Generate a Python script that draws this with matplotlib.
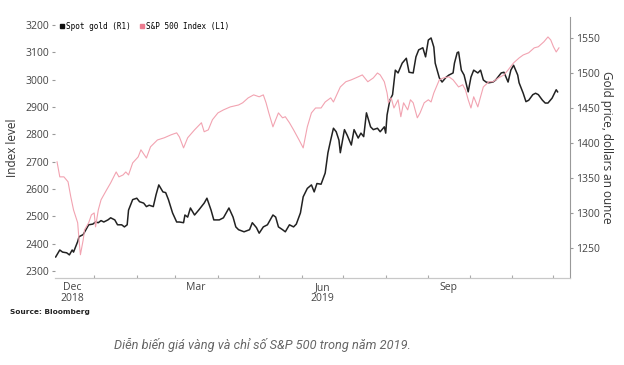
import matplotlib
matplotlib.use("Agg")
import matplotlib.pyplot as plt
import matplotlib.dates as mdates
from matplotlib.lines import Line2D
import pandas as pd

# S&P 500 (left axis)
spx_dates = ["2018-12-05", "2018-12-07", "2018-12-10", "2018-12-13", "2018-12-15", "2018-12-17",
             "2018-12-20", "2018-12-21", "2018-12-22", "2018-12-24", "2018-12-25", "2018-12-28",
             "2018-12-30", "2019-01-01", "2019-01-02", "2019-01-04", "2019-01-06", "2019-01-10",
             "2019-01-13", "2019-01-17", "2019-01-19", "2019-01-22", "2019-01-24", "2019-01-26",
             "2019-01-29", "2019-02-02", "2019-02-04", "2019-02-08", "2019-02-11", "2019-02-16",
             "2019-02-21", "2019-02-26", "2019-03-02", "2019-03-04", "2019-03-07", "2019-03-10",
             "2019-03-15", "2019-03-20", "2019-03-22", "2019-03-25", "2019-03-28", "2019-04-01",
             "2019-04-05", "2019-04-10", "2019-04-16", "2019-04-19", "2019-04-23", "2019-04-27",
             "2019-05-01", "2019-05-04", "2019-05-06", "2019-05-08", "2019-05-11", "2019-05-13",
             "2019-05-15", "2019-05-18", "2019-05-20", "2019-05-23", "2019-05-26", "2019-05-30",
             "2019-06-02", "2019-06-05", "2019-06-08", "2019-06-11", "2019-06-15", "2019-06-18",
             "2019-06-22", "2019-06-24", "2019-06-29", "2019-07-03", "2019-07-07", "2019-07-12",
             "2019-07-15", "2019-07-19", "2019-07-23", "2019-07-26", "2019-07-28", "2019-07-31",
             "2019-08-02", "2019-08-03", "2019-08-05", "2019-08-07", "2019-08-10", "2019-08-12",
             "2019-08-14", "2019-08-17", "2019-08-19", "2019-08-21", "2019-08-24", "2019-08-26",
             "2019-08-29", "2019-09-01", "2019-09-03", "2019-09-05", "2019-09-09", "2019-09-12",
             "2019-09-16", "2019-09-19", "2019-09-23", "2019-09-26", "2019-09-28", "2019-09-30",
             "2019-10-02", "2019-10-04", "2019-10-07", "2019-10-09", "2019-10-11", "2019-10-15",
             "2019-10-18", "2019-10-22", "2019-10-26", "2019-10-29", "2019-11-02", "2019-11-06",
             "2019-11-09", "2019-11-13", "2019-11-17", "2019-11-20", "2019-11-24", "2019-11-27",
             "2019-11-29", "2019-12-01", "2019-12-03", "2019-12-05"]
spx_values = [2699, 2644, 2644, 2626, 2571, 2523,
              2476, 2413, 2359, 2413, 2450, 2476,
              2505, 2512, 2461, 2523, 2560, 2596,
              2622, 2662, 2644, 2651, 2662, 2651,
              2695, 2717, 2743, 2713, 2754, 2779,
              2787, 2798, 2805, 2790, 2750, 2787,
              2816, 2842, 2809, 2816, 2853, 2878,
              2889, 2900, 2907, 2915, 2933, 2944,
              2937, 2944, 2915, 2878, 2827, 2853,
              2878, 2860, 2864, 2842, 2816, 2779,
              2750, 2827, 2878, 2896, 2896, 2918,
              2933, 2918, 2973, 2992, 2999, 3010,
              3017, 2992, 3006, 3024, 3017, 2992,
              2951, 2915, 2933, 2896, 2926, 2864,
              2915, 2889, 2926, 2915, 2860, 2878,
              2915, 2926, 2918, 2951, 2999, 3006,
              3010, 2999, 2973, 2981, 2962, 2926,
              2896, 2937, 2900, 2937, 2973, 2992,
              2992, 3006, 3017, 3035, 3061, 3079,
              3090, 3098, 3116, 3120, 3138, 3156,
              3145, 3120, 3101, 3116]

# Spot gold (right axis)
gold_dates = ["2018-12-04", "2018-12-07", "2018-12-09", "2018-12-12", "2018-12-14", "2018-12-16",
              "2018-12-17", "2018-12-20", "2018-12-21", "2018-12-24", "2018-12-26", "2018-12-28",
              "2018-12-31", "2019-01-02", "2019-01-04", "2019-01-06", "2019-01-08", "2019-01-11",
              "2019-01-13", "2019-01-16", "2019-01-18", "2019-01-21", "2019-01-23", "2019-01-25",
              "2019-01-26", "2019-01-29", "2019-02-01", "2019-02-03", "2019-02-06", "2019-02-08",
              "2019-02-10", "2019-02-13", "2019-02-15", "2019-02-17", "2019-02-20", "2019-02-22",
              "2019-02-24", "2019-02-27", "2019-03-02", "2019-03-04", "2019-03-07", "2019-03-08",
              "2019-03-10", "2019-03-12", "2019-03-15", "2019-03-18", "2019-03-20", "2019-03-22",
              "2019-03-24", "2019-03-27", "2019-03-29", "2019-04-02", "2019-04-05", "2019-04-09",
              "2019-04-12", "2019-04-14", "2019-04-16", "2019-04-20", "2019-04-24", "2019-04-26",
              "2019-04-29", "2019-05-01", "2019-05-04", "2019-05-07", "2019-05-11", "2019-05-13",
              "2019-05-15", "2019-05-18", "2019-05-20", "2019-05-23", "2019-05-26", "2019-05-28",
              "2019-05-31", "2019-06-02", "2019-06-05", "2019-06-08", "2019-06-10", "2019-06-12",
              "2019-06-15", "2019-06-18", "2019-06-20", "2019-06-22", "2019-06-24", "2019-06-26",
              "2019-06-28", "2019-06-29", "2019-07-02", "2019-07-04", "2019-07-07", "2019-07-09",
              "2019-07-12", "2019-07-14", "2019-07-16", "2019-07-18", "2019-07-21", "2019-07-23",
              "2019-07-26", "2019-07-28", "2019-07-31", "2019-08-01", "2019-08-02", "2019-08-04",
              "2019-08-06", "2019-08-08", "2019-08-10", "2019-08-13", "2019-08-16", "2019-08-18",
              "2019-08-21", "2019-08-23", "2019-08-25", "2019-08-28", "2019-08-30", "2019-09-01",
              "2019-09-03", "2019-09-05", "2019-09-06", "2019-09-09", "2019-09-11", "2019-09-14",
              "2019-09-16", "2019-09-19", "2019-09-20", "2019-09-22", "2019-09-23", "2019-09-25",
              "2019-09-27", "2019-09-30", "2019-10-02", "2019-10-04", "2019-10-07", "2019-10-09",
              "2019-10-11", "2019-10-13", "2019-10-15", "2019-10-18", "2019-10-20", "2019-10-24",
              "2019-10-26", "2019-10-29", "2019-10-31", "2019-11-02", "2019-11-05", "2019-11-06",
              "2019-11-09", "2019-11-11", "2019-11-13", "2019-11-16", "2019-11-18", "2019-11-20",
              "2019-11-23", "2019-11-25", "2019-11-27", "2019-11-30", "2019-12-03", "2019-12-04"]
gold_values = [1237, 1247, 1244, 1243, 1240, 1247,
               1244, 1259, 1266, 1269, 1276, 1283,
               1284, 1287, 1286, 1289, 1287, 1290,
               1293, 1290, 1283, 1283, 1280, 1283,
               1304, 1319, 1321, 1316, 1314, 1309,
               1311, 1309, 1326, 1340, 1330, 1329,
               1319, 1300, 1287, 1287, 1286, 1297,
               1294, 1307, 1297, 1304, 1309, 1314,
               1321, 1304, 1290, 1290, 1293, 1307,
               1294, 1280, 1276, 1273, 1276, 1286,
               1279, 1271, 1280, 1283, 1297, 1294,
               1280, 1276, 1273, 1283, 1280, 1284,
               1300, 1323, 1335, 1340, 1330, 1342,
               1341, 1357, 1386, 1404, 1421, 1416,
               1404, 1386, 1419, 1411, 1397, 1419,
               1407, 1414, 1409, 1443, 1423, 1419,
               1421, 1416, 1423, 1414, 1440, 1461,
               1469, 1504, 1500, 1514, 1521, 1501,
               1500, 1523, 1533, 1536, 1523, 1547,
               1550, 1537, 1514, 1493, 1487, 1494,
               1497, 1500, 1514, 1529, 1530, 1504,
               1497, 1473, 1494, 1504, 1500, 1504,
               1490, 1487, 1486, 1487, 1490, 1500,
               1501, 1487, 1504, 1511, 1497, 1486,
               1471, 1459, 1461, 1469, 1471, 1469,
               1461, 1457, 1457, 1464, 1476, 1473]

left_ticks = [2300, 2400, 2500, 2600, 2700, 2800, 2900, 3000, 3100, 3200]
right_ticks = [1250, 1300, 1350, 1400, 1450, 1500, 1550]
x_labels = ["Dec\n2018", "Mar", "Jun\n2019", "Sep"]
x_label_dates = ["2018-12-16", "2019-03-16", "2019-06-16", "2019-09-16"]

spx_x = pd.to_datetime(spx_dates)
gold_x = pd.to_datetime(gold_dates)

fig = plt.figure(figsize=(6.24, 3.65), dpi=100)
ax = fig.add_axes([0.0881, 0.2384, 0.8253, 0.7151])
ax2 = ax.twinx()

# S&P drawn over gold
ax.set_zorder(2)
ax.patch.set_visible(False)
ax2.set_zorder(1)

ax2.plot(gold_x, gold_values, color="#222222", lw=1.1)
ax.plot(spx_x, spx_values, color="#f2a3b1", lw=0.8)

ax.set_xlim(pd.Timestamp("2018-12-03 12:00"), pd.Timestamp("2019-12-13"))
ax.set_ylim(2274, 3229)
ax2.set_ylim(1207, 1580)

tick_font = dict(family="Open Sans", size=7.5)
ax.set_yticks(left_ticks)
ax.set_yticklabels([str(v) for v in left_ticks], fontdict=tick_font, color="#444444")
ax2.set_yticks(right_ticks)
ax2.set_yticklabels([str(v) for v in right_ticks], fontdict=tick_font, color="#444444")

# monthly ticks, quarter labels in mid-month
ax.xaxis.set_major_locator(mdates.MonthLocator())
ax.xaxis.set_major_formatter(plt.NullFormatter())
ax.set_xticks(pd.to_datetime(x_label_dates), minor=True)
ax.set_xticklabels(x_labels, minor=True, fontdict=tick_font, color="#444444", linespacing=1.0)
ax.tick_params(axis="x", which="major", length=2, direction="in", color="#aaaaaa")
ax.tick_params(axis="x", which="minor", length=0, pad=3)
ax.tick_params(axis="y", length=2, color="#999999", pad=2)
ax2.tick_params(axis="y", length=2, color="#999999", pad=2)

for a in (ax, ax2):
    a.spines["top"].set_visible(False)
    a.spines["left"].set_visible(False)
    a.spines["bottom"].set_color("#c8c8c8")
    a.spines["right"].set_visible(False)
ax2.spines["right"].set_visible(True)
ax2.spines["right"].set_color("#999999")
ax2.spines["right"].set_linewidth(0.8)

ax.set_ylabel("Index level", fontsize=8.5, family="Open Sans", color="#333333", labelpad=5)
ax2.set_ylabel("Gold price, dollars an ounce", fontsize=8.5, family="Open Sans",
               color="#333333", rotation=270, labelpad=10)

handles = [Line2D([], [], marker="s", ls="", color="#111111", markersize=3.5),
           Line2D([], [], marker="s", ls="", color="#ec7c90", markersize=3.5)]
ax.legend(handles, ["Spot gold (R1)", "S&P 500 Index (L1)"], loc="upper left",
          bbox_to_anchor=(0.0, 1.0), ncol=2, frameon=False, handlelength=0.6,
          handletextpad=0.2, columnspacing=1.2, borderaxespad=0.2,
          prop=dict(family="DejaVu Sans Mono", size=5.5))

fig.text(0.016, (365 - 312) / 365, "Source: Bloomberg", fontsize=5.3, fontweight="bold",
         family="DejaVu Sans", color="#222222", va="center")
fig.text(262 / 624, (365 - 345) / 365, "Diễn biến giá vàng và chỉ số S&P 500 trong năm 2019.",
         fontsize=9.2, family="Roboto", style="italic", color="#666666",
         ha="center", va="center")

fig.savefig("out.png", dpi=100)
